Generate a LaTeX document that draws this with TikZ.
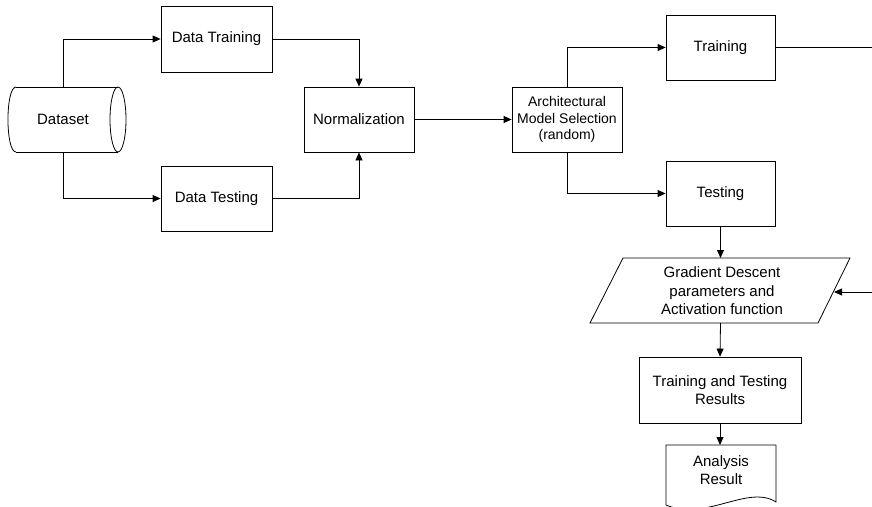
\documentclass[tikz,border=0pt]{standalone}
\usepackage{fontspec}
\setmainfont{Liberation Sans}
\usetikzlibrary{arrows.meta}
\begin{document}
\begin{tikzpicture}[x=1pt,y=-1pt,
  line width=0.8pt,
  arr/.style={-{Triangle[length=8pt,width=7pt]}},
  box/.style={draw,rectangle,inner sep=0pt,align=center,font=\fontsize{15}{18.5}\selectfont},
  plain/.style={rectangle,inner sep=0pt,align=center,font=\fontsize{15}{18.5}\selectfont}]
\useasboundingbox (0,0) rectangle (872,506);
\clip (0,0) rectangle (872,506);
% Dataset (storage shape)
\node[plain,minimum width=94pt,minimum height=65pt] (ds) at (63,119.5) {Dataset};
\draw (16,87) -- (118,87);
\draw (16,152) -- (118,152);
\draw (118,119.5) ellipse [x radius=8, y radius=32.5];
\draw (16,87) .. controls (5.3,87) and (5.3,152) .. (16,152);
% boxes
\node[box,minimum width=111pt,minimum height=66pt] (dtr) at (216.5,39) {Data Training};
\node[box,minimum width=111pt,minimum height=65pt] (dte) at (216.5,198.5) {Data Testing};
\node[box,minimum width=110pt,minimum height=65pt] (norm) at (359,119.5) {Normalization};
\node[box,minimum width=110pt,minimum height=65pt,font=\fontsize{14}{16.7}\selectfont] (arch) at (567,119.5) {Architectural\\Model Selection\\(random)};
\node[box,minimum width=109pt,minimum height=65pt] (tr) at (720.5,47.5) {Training};
\node[box,minimum width=109pt,minimum height=65pt] (te) at (720.5,193.5) {Testing};
% parallelogram
\coordinate (gdt) at (720.5,258);
\coordinate (gdb) at (720.5,323);
\coordinate (gdr) at (834,292);
\draw (623,258) -- (850,258) -- (818,323) -- (590,323) -- cycle;
\node[plain] (gd) at (722,291) {Gradient Descent\\parameters and\\Activation function};
% results
\node[box,minimum width=162pt,minimum height=66pt] (res) at (720,390) {Training and Testing\\Results};
% document
\coordinate (doct) at (720,445);
\draw (666,505) -- (666,445) -- (776,445) -- (776,502)
  .. controls (748,484) and (705,522) .. (666,505);
\node[plain] (doc) at (721,470) {Analysis\\Result};
% right edge
\coordinate (e1) at (872,47.5);
\coordinate (e2) at (872,292);
% connectors
\draw[arr] (ds.north) |- (dtr.west);
\draw[arr] (ds.south) |- (dte.west);
\draw[arr] (dtr.east) -| (norm.north);
\draw[arr] (dte.east) -| (norm.south);
\draw[arr] (norm.east) -- (arch.west);
\draw[arr] (arch.north) |- (tr.west);
\draw[arr] (arch.south) |- (te.west);
\draw[arr] (te.south) -- (gdt);
\draw[arr] (gdb) -- (res.north);
\draw[arr] (res.south) -- (doct);
\draw (tr.east) -- (e1);
\draw[arr] (e2) -- (gdr);
\end{tikzpicture}
\end{document}
